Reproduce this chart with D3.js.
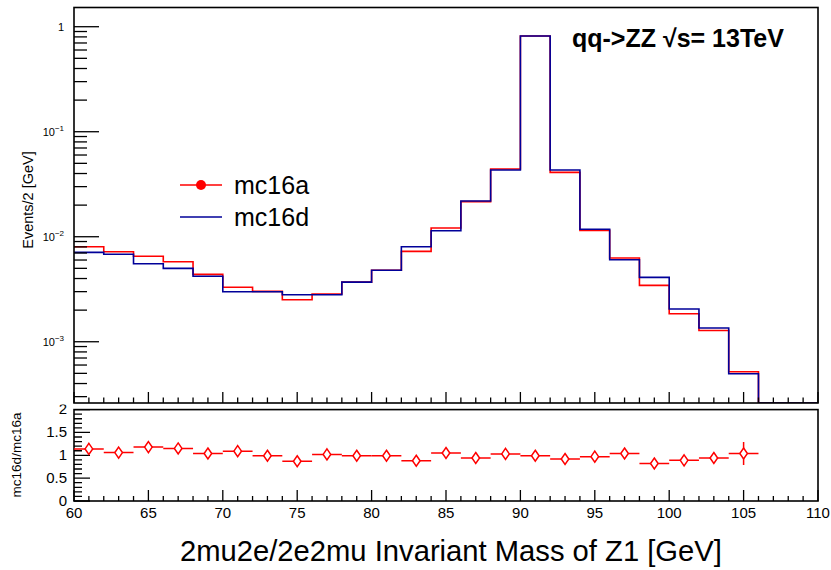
<!DOCTYPE html>
<html>
<head>
<meta charset="utf-8">
<script src="https://cdn.jsdelivr.net/npm/d3@7"></script>
<style>
  html, body { margin: 0; padding: 0; background: #fff; }
  svg { display: block; font-family: "Liberation Sans", Arial, Helvetica, sans-serif; }
</style>
</head>
<body>
<svg id="chart" width="831" height="570"></svg>
<script>
// Bin lower edges of the Z1 mass histogram (2 GeV bins, 60-110 GeV)
const binLow = [60, 62, 64, 66, 68, 70, 72, 74, 76, 78, 80, 82, 84, 86, 88, 90, 92, 94, 96, 98, 100, 102, 104, 106, 108];
const binWidth = 2;

// Normalised events per bin
const mc16a = [0.00803, 0.00720, 0.00651, 0.00578, 0.00438, 0.00330, 0.00302, 0.00251, 0.00285, 0.00370,
               0.00479, 0.00726, 0.0121, 0.0216, 0.0441, 0.815, 0.0410, 0.0115, 0.00627, 0.00344,
               0.00185, 0.00128, 0.000518, 0, 0];
const mc16d = [0.00710, 0.00680, 0.00553, 0.00500, 0.00420, 0.00299, 0.00299, 0.00280, 0.00280, 0.00370,
               0.00479, 0.00803, 0.0114, 0.0219, 0.0432, 0.815, 0.0432, 0.0118, 0.00604, 0.00410,
               0.00205, 0.00135, 0.000496, 0, 0];

// Ratio panel points (bin centres 61 ... 105)
const ratioX = [61, 63, 65, 67, 69, 71, 73, 75, 77, 79, 81, 83, 85, 87, 89, 91, 93, 95, 97, 99, 101, 103, 105];
const ratio = [1.14, 1.06, 1.18, 1.15, 1.04, 1.09, 0.99, 0.87, 1.02, 0.99, 0.99, 0.88, 1.05, 0.94, 1.03,
               0.99, 0.92, 0.97, 1.04, 0.82, 0.89, 0.94, 1.04];
const ratioErr = [0.05, 0.05, 0.05, 0.05, 0.05, 0.05, 0.05, 0.05, 0.05, 0.05, 0.05, 0.05, 0.05, 0.05, 0.04,
                  0.01, 0.04, 0.05, 0.05, 0.06, 0.07, 0.08, 0.25];

// Axis tick values and labels
const xMajorTicks = [60, 65, 70, 75, 80, 85, 90, 95, 100, 105, 110];
const logDecades = [1, 0.1, 0.01, 0.001];
const logExponents = [0, -1, -2, -3];
const ratioMajorTicks = [0, 0.5, 1, 1.5, 2];
const ratioTickLabels = ["0", "0.5", "1", "1.5", "2"];

const svg = d3.select("#chart");
const RED = "#ff0000", BLUE = "#000099";

// Geometry of the two pads
const left = 74, right = 818;
const topY0 = 7.5, topY1 = 403;
const ratY0 = 409.6, ratY1 = 501;

const x = d3.scaleLinear().domain([60, 110]).range([left, right]);
const yTop = d3.scaleLog().domain([2.61e-4, 1.524]).range([topY1, topY0]).clamp(true);
const yRat = d3.scaleLinear().domain([0, 2]).range([ratY1, ratY0]);

const defs = svg.append("defs");
defs.append("clipPath").attr("id", "topClip")
  .append("rect").attr("x", left).attr("y", topY0).attr("width", right - left).attr("height", topY1 - topY0);
defs.append("clipPath").attr("id", "hiddenLabels")
  .append("rect").attr("x", 0).attr("y", 404).attr("width", 831).attr("height", 3.5);
defs.append("clipPath").attr("id", "ratioPad")
  .append("rect").attr("x", 0).attr("y", 404.5).attr("width", 831).attr("height", 170);

// ---------- top pad ----------
const gTop = svg.append("g");

// Histograms as step lines
const stepLine = d3.line()
  .x(d => x(d[0]))
  .y(d => d[1] > 0 ? yTop(d[1]) : topY1)
  .curve(d3.curveStepAfter);

function stepPoints(vals) {
  const pts = binLow.map((b, i) => [b, vals[i]]);
  pts.push([binLow[binLow.length - 1] + binWidth, vals[vals.length - 1]]);
  return pts;
}

const gHist = gTop.append("g").attr("clip-path", "url(#topClip)");
gHist.append("path").attr("d", stepLine(stepPoints(mc16a)))
  .attr("fill", "none").attr("stroke", RED).attr("stroke-width", 1.6);
gHist.append("path").attr("d", stepLine(stepPoints(mc16d)))
  .attr("fill", "none").attr("stroke", BLUE).attr("stroke-width", 1.6);

// Frame
gTop.append("rect").attr("x", left).attr("y", topY0).attr("width", right - left).attr("height", topY1 - topY0)
  .attr("fill", "none").attr("stroke", "#000").attr("stroke-width", 1.6);

// Log y axis ticks (major at decades, minor at 2..9)
const minorLog = [];
for (let e = -4; e <= 0; e++) {
  for (let m = 2; m <= 9; m++) {
    const v = m * Math.pow(10, e);
    if (v > yTop.domain()[0] && v < yTop.domain()[1]) minorLog.push(v);
  }
}
gTop.selectAll(".ymin").data(minorLog).join("line")
  .attr("x1", left).attr("x2", left + 13)
  .attr("y1", d => yTop(d)).attr("y2", d => yTop(d))
  .attr("stroke", "#000").attr("stroke-width", 1.3);
gTop.selectAll(".ymaj").data(logDecades).join("line")
  .attr("x1", left).attr("x2", left + 25)
  .attr("y1", d => yTop(d)).attr("y2", d => yTop(d))
  .attr("stroke", "#000").attr("stroke-width", 1.3);

// Decade labels
logDecades.forEach((v, i) => {
  const e = logExponents[i];
  const t = gTop.append("text").attr("text-anchor", "end")
    .attr("x", left - 10).attr("y", yTop(v) + 4)
    .attr("font-size", 11).attr("fill", "#000");
  if (e === 0) {
    t.text("1");
  } else {
    t.append("tspan").text("10");
    t.append("tspan").attr("font-size", 8).attr("dy", -5).text("\u2212" + Math.abs(e));
  }
});

// Bottom x axis ticks of the top pad
const xMinor = d3.range(60, 111, 1).filter(v => v % 5 !== 0);
gTop.selectAll(".xmin").data(xMinor).join("line")
  .attr("x1", d => x(d)).attr("x2", d => x(d))
  .attr("y1", topY1).attr("y2", topY1 - 5.5)
  .attr("stroke", "#000").attr("stroke-width", 1.3);
gTop.selectAll(".xmaj").data(xMajorTicks).join("line")
  .attr("x1", d => x(d)).attr("x2", d => x(d))
  .attr("y1", topY1).attr("y2", topY1 - 11)
  .attr("stroke", "#000").attr("stroke-width", 1.3);

// Top-pad x labels sit mostly under the ratio pad; only their tips peek out
gTop.append("g").attr("clip-path", "url(#hiddenLabels)")
  .selectAll("text").data(xMajorTicks.slice(1)).join("text")
  .attr("x", d => x(d)).attr("y", 418).attr("text-anchor", "middle")
  .attr("font-size", 14).attr("fill", "#ccc").text(d => d);

// Y axis title
gTop.append("text")
  .attr("transform", "translate(33,200) rotate(-90)")
  .attr("text-anchor", "middle").attr("font-size", 14.5).attr("fill", "#000")
  .text("Events/2 [GeV]");

// Process label
gTop.append("text").attr("x", 572).attr("y", 47)
  .attr("font-size", 25).attr("font-weight", "bold").attr("fill", "#000")
  .text("qq->ZZ \u221As= 13TeV");

// Legend
const leg = gTop.append("g");
leg.append("line").attr("x1", 180).attr("x2", 222).attr("y1", 185).attr("y2", 185)
  .attr("stroke", RED).attr("stroke-width", 1.6);
leg.append("circle").attr("cx", 201).attr("cy", 185).attr("r", 5).attr("fill", RED);
leg.append("text").attr("x", 234).attr("y", 194).attr("font-size", 25).attr("fill", "#000").text("mc16a");
leg.append("line").attr("x1", 180).attr("x2", 222).attr("y1", 217).attr("y2", 217)
  .attr("stroke", BLUE).attr("stroke-width", 1.6);
leg.append("text").attr("x", 234).attr("y", 226).attr("font-size", 25).attr("fill", "#000").text("mc16d");

// ---------- ratio pad ----------
const gRat = svg.append("g").attr("clip-path", "url(#ratioPad)");

gRat.append("rect").attr("x", left).attr("y", ratY0).attr("width", right - left).attr("height", ratY1 - ratY0)
  .attr("fill", "none").attr("stroke", "#000").attr("stroke-width", 1.6);

// Ratio y ticks
const ratMinor = d3.range(0, 2.001, 0.1).filter(v => Math.abs(v * 2 - Math.round(v * 2)) > 1e-6);
gRat.selectAll(".rmin").data(ratMinor).join("line")
  .attr("x1", left).attr("x2", left + 8)
  .attr("y1", d => yRat(d)).attr("y2", d => yRat(d))
  .attr("stroke", "#000").attr("stroke-width", 1.3);
gRat.selectAll(".rmaj").data(ratioMajorTicks).join("line")
  .attr("x1", left).attr("x2", left + 16)
  .attr("y1", d => yRat(d)).attr("y2", d => yRat(d))
  .attr("stroke", "#000").attr("stroke-width", 1.3);
gRat.selectAll(".rlab").data(ratioMajorTicks).join("text")
  .attr("x", 67).attr("y", d => yRat(d) + 4.5).attr("text-anchor", "end")
  .attr("font-size", 15).attr("fill", "#000")
  .text((d, i) => ratioTickLabels[i]);

// Ratio x ticks and labels
gRat.selectAll(".rxmin").data(xMinor).join("line")
  .attr("x1", d => x(d)).attr("x2", d => x(d))
  .attr("y1", ratY1).attr("y2", ratY1 - 5)
  .attr("stroke", "#000").attr("stroke-width", 1.3);
gRat.selectAll(".rxmaj").data(xMajorTicks).join("line")
  .attr("x1", d => x(d)).attr("x2", d => x(d))
  .attr("y1", ratY1).attr("y2", ratY1 - 11)
  .attr("stroke", "#000").attr("stroke-width", 1.3);
gRat.selectAll(".rxlab").data(xMajorTicks).join("text")
  .attr("x", d => x(d)).attr("y", 517.5).attr("text-anchor", "middle")
  .attr("font-size", 15).attr("fill", "#000").text(d => d);

// Ratio points: horizontal bin-width bars, vertical errors, open diamonds
const gPts = gRat.append("g");
ratioX.forEach((c, i) => {
  const cy = yRat(ratio[i]);
  gPts.append("line").attr("x1", x(c - binWidth / 2)).attr("x2", x(c + binWidth / 2))
    .attr("y1", cy).attr("y2", cy).attr("stroke", RED).attr("stroke-width", 1.5);
  gPts.append("line").attr("x1", x(c)).attr("x2", x(c))
    .attr("y1", yRat(ratio[i] - ratioErr[i])).attr("y2", yRat(ratio[i] + ratioErr[i]))
    .attr("stroke", RED).attr("stroke-width", 1.5);
  const cx = x(c);
  gPts.append("path")
    .attr("d", `M${cx},${cy - 5.5}L${cx + 3.8},${cy}L${cx},${cy + 5.5}L${cx - 3.8},${cy}Z`)
    .attr("fill", "#fff").attr("stroke", RED).attr("stroke-width", 1.5);
});

// Ratio y title
svg.append("text")
  .attr("transform", "translate(21,455) rotate(-90)")
  .attr("text-anchor", "middle").attr("font-size", 13.5).attr("fill", "#000")
  .text("mc16d/mc16a");

// X axis title
svg.append("text").attr("x", 180).attr("y", 561)
  .attr("font-size", 29.2).attr("fill", "#000")
  .text("2mu2e/2e2mu Invariant Mass of Z1 [GeV]");
</script>
</body>
</html>
